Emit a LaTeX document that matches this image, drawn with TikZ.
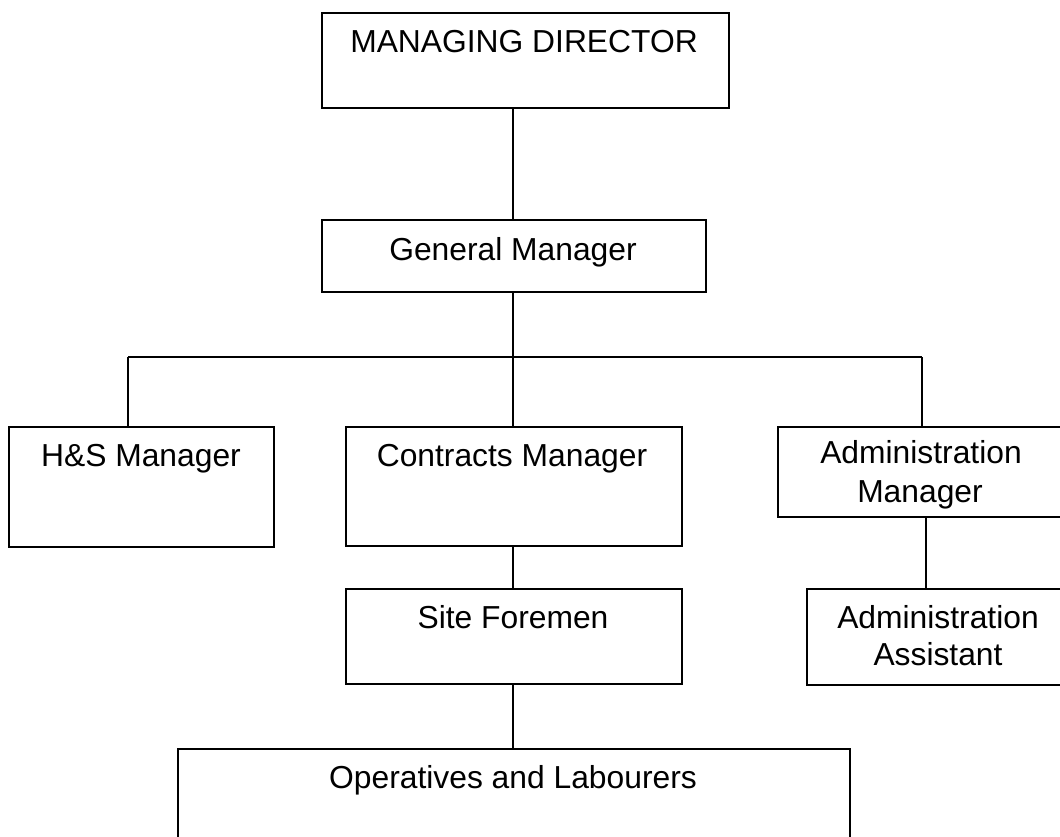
\documentclass[tikz,border=0pt]{standalone}
\usepackage{fontspec}
\setmainfont{Liberation Sans}
\begin{document}
\begin{tikzpicture}[x=1bp,y=-1bp,
  box/.style={draw=black,line width=1.8bp,rectangle,inner sep=0pt,fill=white,anchor=north west},
  lbl/.style={anchor=base,inner sep=0pt,font=\fontsize{31.8bp}{38bp}\selectfont},
  conn/.style={draw=black,line width=1.8bp}]
\clip (0,0) rectangle (1060,837);
\fill[white] (0,0) rectangle (1060,837);
% boxes
\node[box,minimum width=407bp,minimum height=95bp] (md) at (321,12) {};
\node[box,minimum width=384bp,minimum height=72bp] (gm) at (321,219) {};
\node[box,minimum width=265bp,minimum height=120bp] (hs) at (8,426) {};
\node[box,minimum width=336bp,minimum height=119bp] (cm) at (345,426) {};
\node[box,minimum width=300bp,minimum height=90bp] (am) at (777,426) {};
\node[box,minimum width=336bp,minimum height=95bp] (sf) at (345,588) {};
\node[box,minimum width=270bp,minimum height=96bp] (aa) at (806,588) {};
\node[box,minimum width=672bp,minimum height=150bp] (ol) at (177,748) {};
% texts
\node[lbl] (mdT) at (524,52) {MANAGING DIRECTOR};
\node[lbl] (gmT) at (513,260) {General Manager};
\node[lbl] (hsT) at (141,466) {H\&S Manager};
\node[lbl] (cmT) at (512,466) {Contracts Manager};
\node[lbl] (amT1) at (921,463) {Administration};
\node[lbl] (amT2) at (920,502) {Manager};
\node[lbl] (sfT) at (513,628) {Site Foremen};
\node[lbl] (aaT1) at (938,628) {Administration};
\node[lbl] (aaT2) at (938,665) {Assistant};
\node[lbl] (olT) at (513,788) {Operatives and Labourers};
% connectors
\coordinate (busL) at (128,357);
\coordinate (busR) at (922,357);
\coordinate (busM) at (513,357);
\coordinate (amB) at (926,516);
\draw[conn] (busM |- md.south) -- (busM |- gm.north);
\draw[conn] (busM |- gm.south) -- (busM);
\draw[conn] (busL) -- (busR);
\draw[conn] (busL) -- (busL |- hs.north);
\draw[conn] (busM) -- (busM |- cm.north);
\draw[conn] (busR) -- (busR |- am.north);
\draw[conn] (busM |- cm.south) -- (busM |- sf.north);
\draw[conn] (busM |- sf.south) -- (busM |- ol.north);
\draw[conn] (amB) -- (amB |- aa.north);
\end{tikzpicture}
\end{document}
